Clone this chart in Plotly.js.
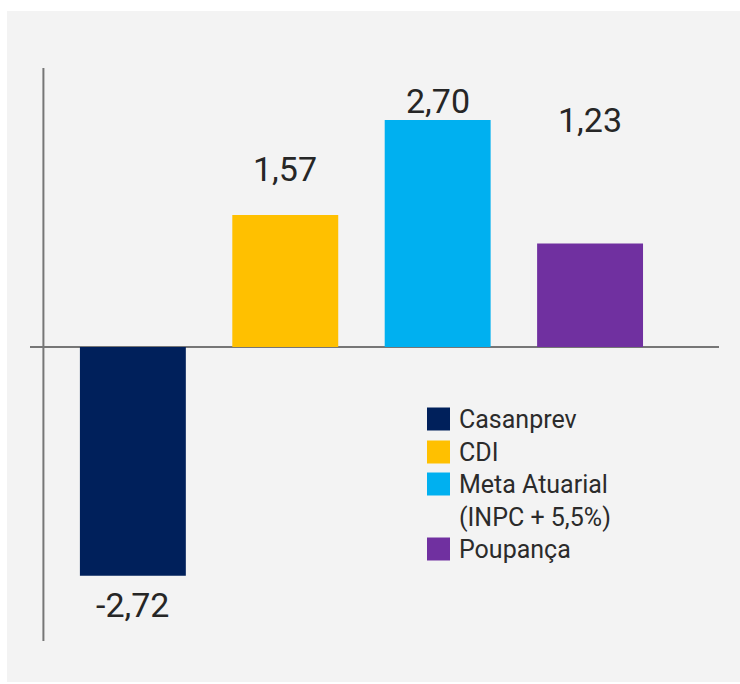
<!DOCTYPE html>
<html>
<head>
<meta charset="utf-8">
<script src="https://cdn.plot.ly/plotly-3.0.1.min.js"></script>
<style>
  html, body { margin: 0; padding: 0; background: #ffffff; }
  #panel { position: absolute; left: 7px; top: 11px; width: 733px; height: 671px; background: #f3f3f3; }
  #chart { position: absolute; left: 0; top: 0; width: 740px; height: 684px; }
</style>
</head>
<body>
<div id="panel"></div>
<div id="chart"></div>
<script>
// ---- data ----
const categories = ['Casanprev', 'CDI', 'Meta Atuarial (INPC + 5,5%)', 'Poupança'];
const values = [-2.72, 1.57, 2.70, 1.23];
const colors = ['#00205b', '#ffc000', '#00b0f0', '#7030a0'];

// ---- layout constants (pixels) ----
const W = 740, H = 684;
const mL = 30, mR = 21, mT = 68, mB = 43;
const plotW = W - mL - mR, plotH = H - mT - mB;
const px2x = px => (px - mL) / plotW;
const px2y = py => (H - mB - py) / plotH;

const labelShift = [-29, 46, 19, 124];   // label offsets from bar ends, px
const labelFont = { family: 'Roboto, "Noto Sans", sans-serif', size: 34, color: '#262626' };
const legendFont = { family: 'Roboto, "Noto Sans", sans-serif', size: 25, color: '#2b2b2b' };

const traces = categories.map((c, i) => ({
  type: 'bar',
  x: [i],
  y: [values[i]],
  name: c,
  width: 0.695,
  marker: { color: colors[i], line: { width: 0 } },
  hoverinfo: 'none',
  showlegend: false
}));

const annotations = values.map((v, i) => ({
  x: i, y: v, xref: 'x', yref: 'y',
  text: v.toFixed(2).replace('.', ','),
  showarrow: false,
  xanchor: 'center', yanchor: 'middle',
  yshift: labelShift[i],
  font: labelFont
}));

const shapes = [{
  type: 'line', xref: 'x', yref: 'paper',
  x0: -0.587, x1: -0.587, y0: 0, y1: 1,
  line: { color: '#767676', width: 2 }
}];

// custom legend
const legRowY = [419, 452, 484, 549];
const swL = 427, swR = 450, swH = 23, textX = 457;
categories.forEach((c, i) => {
  const cy = legRowY[i];
  shapes.push({
    type: 'rect', xref: 'paper', yref: 'paper',
    x0: px2x(swL), x1: px2x(swR), y0: px2y(cy + swH / 2), y1: px2y(cy - swH / 2),
    fillcolor: colors[i], line: { width: 0 }
  });
  annotations.push({
    xref: 'paper', yref: 'paper',
    x: px2x(textX), y: px2y(cy - 16),
    xanchor: 'left', yanchor: 'top', align: 'left',
    text: c.replace(' (', '<br>('),
    showarrow: false,
    font: legendFont
  });
});

const layout = {
  width: W, height: H,
  margin: { l: mL, r: mR, t: mT, b: mB, pad: 0 },
  paper_bgcolor: 'rgba(0,0,0,0)',
  plot_bgcolor: 'rgba(0,0,0,0)',
  showlegend: false,
  xaxis: {
    type: 'linear',
    range: [-0.675, 3.846],
    showgrid: false, zeroline: false, showline: false, showticklabels: false, ticks: '',
    fixedrange: true
  },
  yaxis: {
    range: [-3.496, 3.317],
    showgrid: false, showline: false, showticklabels: false, ticks: '',
    zeroline: true, zerolinecolor: '#767676', zerolinewidth: 2,
    fixedrange: true
  },
  shapes: shapes,
  annotations: annotations
};

Plotly.newPlot('chart', traces, layout, { displayModeBar: false, staticPlot: true });
</script>
</body>
</html>
